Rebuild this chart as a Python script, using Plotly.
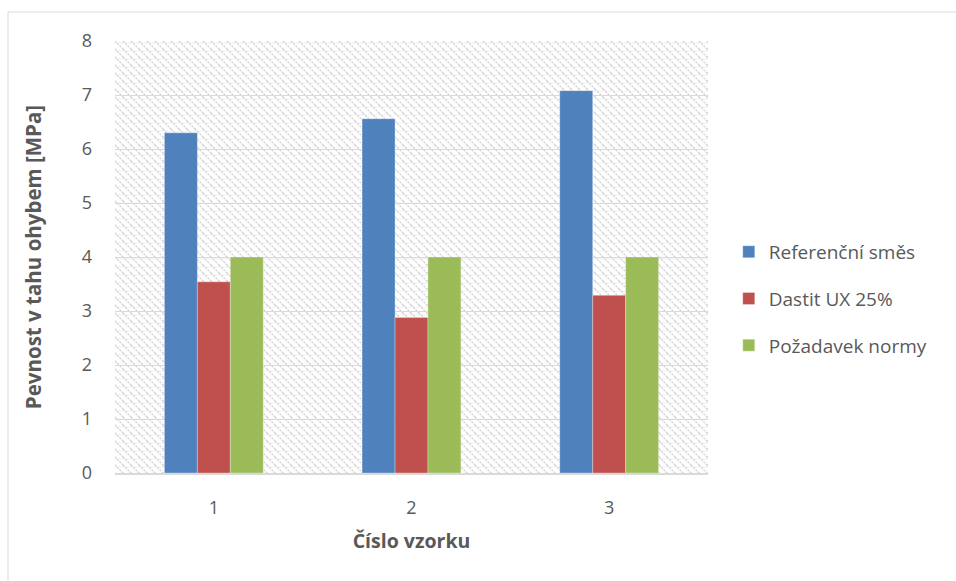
import base64
import plotly.graph_objects as go

# Sample numbers and measured flexural strength (MPa)
samples = ["1", "2", "3"]
referencni = [6.30, 6.56, 7.08]
dastit = [3.54, 2.88, 3.29]
pozadavek = [4.0, 4.0, 4.0]

series_names = ["Referenční směs", "Dastit UX 25%", "Požadavek normy"]
series_colors = ["#4f81bd", "#c0504d", "#9bbb59"]

W, H = 956, 581
M_L, M_R, M_T, M_B = 115, 248, 41, 108
PW, PH = W - M_L - M_R, H - M_T - M_B

# Diagonal hatch used as the plot-area fill
hatch_svg = f"""<svg xmlns='http://www.w3.org/2000/svg' width='{PW}' height='{PH}'>
<defs><pattern id='h' width='8' height='8' patternUnits='userSpaceOnUse'>
<rect width='8' height='8' fill='white'/>
<line x1='0' y1='2' x2='8' y2='2' stroke='#f0f0f0' stroke-width='1'/>
<line x1='0' y1='0' x2='8' y2='8' stroke='#d4d4d4' stroke-width='1.4' stroke-dasharray='2 1.2'/>
<line x1='-1' y1='7' x2='1' y2='9' stroke='#d4d4d4' stroke-width='1.4'/>
<line x1='7' y1='-1' x2='9' y2='1' stroke='#d4d4d4' stroke-width='1.4'/>
</pattern></defs>
<rect width='100%' height='100%' fill='url(#h)'/>
</svg>"""
hatch_uri = "data:image/svg+xml;base64," + base64.b64encode(hatch_svg.encode()).decode()

FONT = "'Open Sans', sans-serif"
GREY = "#595959"

fig = go.Figure()
for name, vals, col in zip(series_names, [referencni, dastit, pozadavek], series_colors):
    fig.add_trace(go.Bar(
        x=samples, y=vals, name=name, legendgroup=name,
        marker=dict(color=col, line=dict(color="rgba(255,255,255,0.5)", width=0.6)),
    ))

fig.update_layout(
    width=W, height=H,
    margin=dict(l=M_L, r=M_R, t=M_T, b=M_B),
    paper_bgcolor="white", plot_bgcolor="white",
    barmode="group", bargap=0.5, bargroupgap=0,
    font=dict(family=FONT, size=18, color=GREY),
    legend=dict(
        x=1.035, y=0.403, xanchor="left", yanchor="middle",
        font=dict(size=19, color=GREY), tracegroupgap=19,
        itemwidth=30, bgcolor="rgba(0,0,0,0)",
    ),
    images=[dict(
        source=hatch_uri, xref="paper", yref="paper", x=0, y=1,
        sizex=1, sizey=1, sizing="stretch", xanchor="left", yanchor="top",
        layer="below",
    )],
    shapes=[dict(
        type="rect", xref="paper", yref="paper",
        x0=(8 - M_L) / PW, x1=(W + 20 - M_L) / PW,
        y0=-(H + 20 - (M_T + PH)) / PH, y1=(M_T + PH - 12) / PH,
        line=dict(color="#d9d9d9", width=1), fillcolor="rgba(0,0,0,0)",
        layer="below",
    )],
)

fig.update_yaxes(
    range=[0, 8], dtick=1, showgrid=True, gridcolor="#d9d9d9", gridwidth=1,
    zeroline=False, ticks="", ticklabelstandoff=22,
    tickfont=dict(size=18, color=GREY),
    title=dict(text="<b>Pevnost v tahu ohybem [MPa]</b>", font=dict(size=20.5, color=GREY), standoff=34),
)
fig.update_xaxes(
    showline=True, linecolor="#d9d9d9", linewidth=1.5, showgrid=False,
    ticks="", ticklabelstandoff=18,
    tickfont=dict(size=18, color=GREY),
    title=dict(text="<b>Číslo vzorku</b>", font=dict(size=19.5, color=GREY), standoff=16),
)

fig.write_html("out.html")
